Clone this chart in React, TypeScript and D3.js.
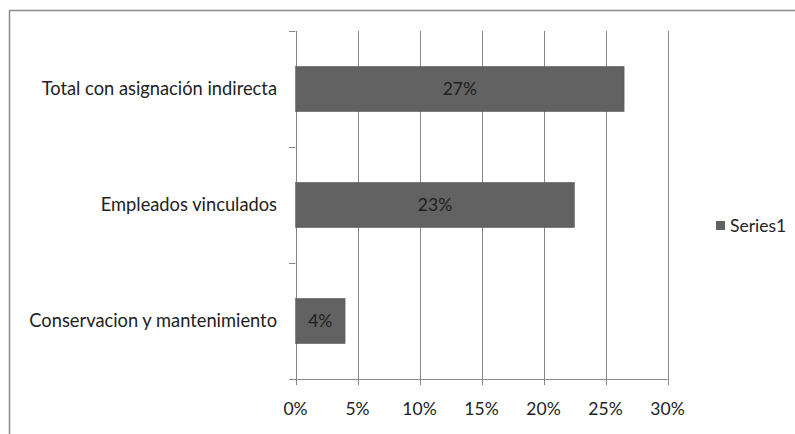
import React from "react";
import * as d3 from "d3";

const categories = ["Total con asignación indirecta", "Empleados vinculados", "Conservacion y mantenimiento"];
const values = [0.265, 0.225, 0.04];
const valueLabels = ["27%", "23%", "4%"];
const xTicks = [0, 0.05, 0.1, 0.15, 0.2, 0.25, 0.3];
const seriesName = "Series1";

export default function App() {
  const W = 795, H = 434;
  const x = d3.scaleLinear().domain([0, 0.3]).range([295.5, 667.5]);
  const y = d3.scaleBand().domain(categories).range([31, 379]).paddingInner(0.61).paddingOuter(0.305);
  const step = y.step();
  const font = "Lato, 'Open Sans', sans-serif";
  const grid = "#868686";
  const bar = "#626262";
  return (
    <svg width={W} height={H} style={{ position: "absolute", left: 0, top: 0, background: "#fff" }} fontFamily={font}>
      <rect x={9.5} y={10.5} width={W + 10} height={H + 10} fill="#fff" stroke="#8a8a8a" strokeWidth={1.5} />
      {xTicks.map((t) => (
        <line key={"g" + t} x1={Math.round(x(t)) + 0.5} x2={Math.round(x(t)) + 0.5} y1={31} y2={385} stroke={grid} strokeWidth={1} />
      ))}
      {[0, 1, 2, 3].map((i) => (
        <line key={"yt" + i} x1={289} x2={295.5} y1={Math.round(31 + i * step) + 0.5} y2={Math.round(31 + i * step) + 0.5} stroke={grid} />
      ))}
      <line x1={289} x2={667.5} y1={379.5} y2={379.5} stroke={grid} />
      {categories.map((c, i) => (
        <g key={c}>
          <rect x={x(0)} y={y(c)!} width={x(values[i]) - x(0)} height={y.bandwidth()} fill={bar} stroke="#5a5a5a" strokeWidth={0.5} />
          <text x={(x(0) + x(values[i])) / 2} y={y(c)! + y.bandwidth() / 2} dy="0.35em" textAnchor="middle" fontSize={17.5} fill="#1e1e1e">{valueLabels[i]}</text>
          <text x={277} y={y(c)! + y.bandwidth() / 2} dy="0.35em" textAnchor="end" fontSize={18.3} fill="#222">{c}</text>
        </g>
      ))}
      {xTicks.map((t) => (
        <text key={"xl" + t} x={x(t)} y={415} textAnchor="middle" fontSize={17.5} fill="#222">{d3.format(".0%")(t)}</text>
      ))}
      <rect x={716} y={221} width={9} height={9} fill={bar} />
      <text x={730} y={226} dy="0.35em" fontSize={17.5} fill="#222">{seriesName}</text>
    </svg>
  );
}
